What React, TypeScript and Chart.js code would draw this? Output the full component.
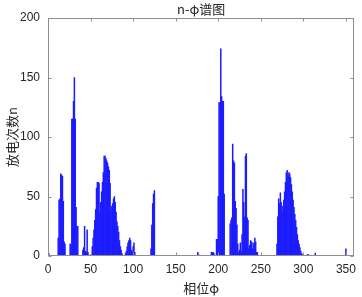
import React, { useEffect, useRef } from "react";
import { Chart, registerables } from "chart.js";

Chart.register(...registerables);

// Phase (degrees) and discharge counts n
const phases: number[] = [
  1,
  12, 13, 14, 15, 16, 17, 18, 19, 20,
  26, 27, 28, 29, 30, 31, 32, 33, 34, 35,
  41, 42, 43, 44, 45, 46, 47,
  50,
  52, 53, 54, 55, 56, 57, 58, 59, 60, 61, 62, 63, 64, 65, 66, 67, 68, 69, 70,
  71, 72, 73, 74, 75, 76, 77, 78, 79, 80, 81, 82, 83, 84, 85, 86, 87,
  91, 92, 93, 94, 95, 96, 97, 98, 99, 100, 101, 102,
  121, 122, 123, 124, 125,
  176, 177,
  192, 193, 194, 195,
  198, 199, 200, 201, 202, 203, 204, 205, 206, 207,
  214, 215, 216, 217, 218, 219, 220, 221, 222, 223, 224, 225, 226, 227, 228, 229, 230,
  231, 232, 233, 234, 235, 236, 237, 238, 239, 240, 241, 242, 243, 244, 245, 246,
  269, 270, 271, 272, 273, 274, 275, 276, 277, 278, 279, 280, 281, 282, 283, 284,
  285, 286, 287, 288, 289, 290, 291, 292, 293, 294, 295, 296, 297, 298, 299,
  305, 306,
  314,
  350,
];

const counts: number[] = [
  2,
  15, 47, 48, 69, 68, 67, 46, 12, 10,
  10, 10, 115, 115, 130, 150, 115, 41, 25, 25,
  5, 7, 25, 4, 3, 22, 3,
  1,
  8, 15, 22, 30, 39, 57, 62, 62, 61, 36, 45, 54, 62, 70, 84, 84, 82, 80, 78,
  75, 72, 61, 39, 42, 44, 48, 50, 45, 37, 29, 25, 20, 13, 8, 5, 2,
  2, 4, 8, 11, 13, 15, 13, 5, 3, 8, 11, 3,
  6, 26, 44, 52, 55,
  3, 1,
  3, 3, 3, 2,
  14, 14, 50, 129, 129, 174, 134, 130, 130, 52,
  27, 30, 32, 94, 80, 78, 46, 40, 26, 10, 3, 5, 11, 4, 18, 56, 45,
  33, 84, 86, 32, 30, 6, 9, 13, 12, 6, 11, 10, 15, 12, 3, 3,
  10, 33, 48, 44, 53, 45, 37, 42, 47, 54, 62, 70, 72, 67, 70, 69,
  66, 60, 54, 47, 41, 35, 30, 24, 18, 13, 10, 7, 4, 2, 1,
  1.5, 1,
  2.5,
  6,
];

const xTicks: number[] = [0, 50, 100, 150, 200, 250, 300, 350];
const yTicks: number[] = [0, 50, 100, 150, 200];

const titleText = "n-φ谱图";
const xTitle = "相位φ";
const yTitle = "放电次数n";

const AXIS_COLOR = "#8f8f8f";
const TEXT_COLOR = "#262626";
const BAR_COLOR = "#1c1cff";
const CJK_FONT = '13px "Noto Sans CJK SC", "Liberation Sans", sans-serif';

const framePlugin = {
  id: "matlabFrame",
  afterDraw(chart: any) {
    const { ctx, chartArea, scales } = chart;
    const { left, right, top, bottom } = chartArea;
    const x = scales.x;
    const y = scales.y;
    ctx.save();
    ctx.strokeStyle = AXIS_COLOR;
    ctx.lineWidth = 1;
    const L = Math.round(left) + 0.5;
    const R = Math.round(right) - 0.5;
    const T = Math.round(top) + 0.5;
    const B = Math.round(bottom) - 0.5;
    ctx.strokeRect(L, T, R - L, B - T);
    const tl = 3;
    ctx.beginPath();
    xTicks.forEach((v) => {
      const px = Math.round(x.getPixelForValue(v)) + 0.5;
      ctx.moveTo(px, B);
      ctx.lineTo(px, B - tl);
      ctx.moveTo(px, T);
      ctx.lineTo(px, T + tl);
    });
    yTicks.forEach((v) => {
      const py = Math.round(y.getPixelForValue(v)) + 0.5;
      ctx.moveTo(L, py);
      ctx.lineTo(L + tl, py);
      ctx.moveTo(R, py);
      ctx.lineTo(R - tl, py);
    });
    ctx.stroke();

    // Titles
    ctx.fillStyle = TEXT_COLOR;
    ctx.font = CJK_FONT;
    ctx.textAlign = "center";
    ctx.textBaseline = "middle";
    const cx = (left + right) / 2;
    ctx.fillText(titleText, cx, 9);
    ctx.fillText(xTitle, cx, 288);
    ctx.translate(12.5, (top + bottom) / 2);
    ctx.rotate(-Math.PI / 2);
    ctx.fillText(yTitle, 0, 0);
    ctx.restore();
  },
};

export default function App() {
  const canvasRef = useRef<HTMLCanvasElement | null>(null);

  useEffect(() => {
    if (!canvasRef.current) return;
    const data = phases.map((p, i) => ({ x: p, y: counts[i] }));
    const chart = new Chart(canvasRef.current, {
      type: "bar",
      data: {
        datasets: [
          {
            data,
            backgroundColor: BAR_COLOR,
            borderColor: BAR_COLOR,
            borderWidth: 0,
            barPercentage: 1,
            categoryPercentage: 1,
          },
        ],
      },
      options: {
        animation: false,
        responsive: false,
        maintainAspectRatio: false,
        layout: { padding: { top: 18, right: 3, left: 0, bottom: 0 } },
        plugins: {
          legend: { display: false },
          title: { display: false },
          tooltip: { enabled: false },
        },
        scales: {
          x: {
            type: "linear",
            min: 0,
            max: 360,
            offset: false,
            grid: { display: false, drawTicks: false },
            border: { display: false },
            afterBuildTicks: (scale: any) => {
              scale.ticks = xTicks.map((v) => ({ value: v }));
            },
            afterFit: (scale: any) => {
              scale.height = 41;
            },
            ticks: {
              padding: 6,
              maxRotation: 0,
              autoSkip: false,
              color: TEXT_COLOR,
              font: { family: '"Liberation Sans", Arial, sans-serif', size: 12 },
            },
          },
          y: {
            type: "linear",
            min: 0,
            max: 200,
            grid: { display: false, drawTicks: false },
            border: { display: false },
            afterBuildTicks: (scale: any) => {
              scale.ticks = yTicks.map((v) => ({ value: v }));
            },
            afterFit: (scale: any) => {
              scale.width = 48;
            },
            ticks: {
              padding: 8,
              color: TEXT_COLOR,
              font: { family: '"Liberation Sans", Arial, sans-serif', size: 12 },
            },
          },
        },
      },
      plugins: [framePlugin],
    });
    return () => chart.destroy();
  }, []);

  return (
    <div style={{ position: "fixed", left: 0, top: 0, width: 362, height: 297, background: "#fff" }}>
      <canvas ref={canvasRef} width={362} height={297} style={{ width: 362, height: 297, display: "block" }} />
    </div>
  );
}
